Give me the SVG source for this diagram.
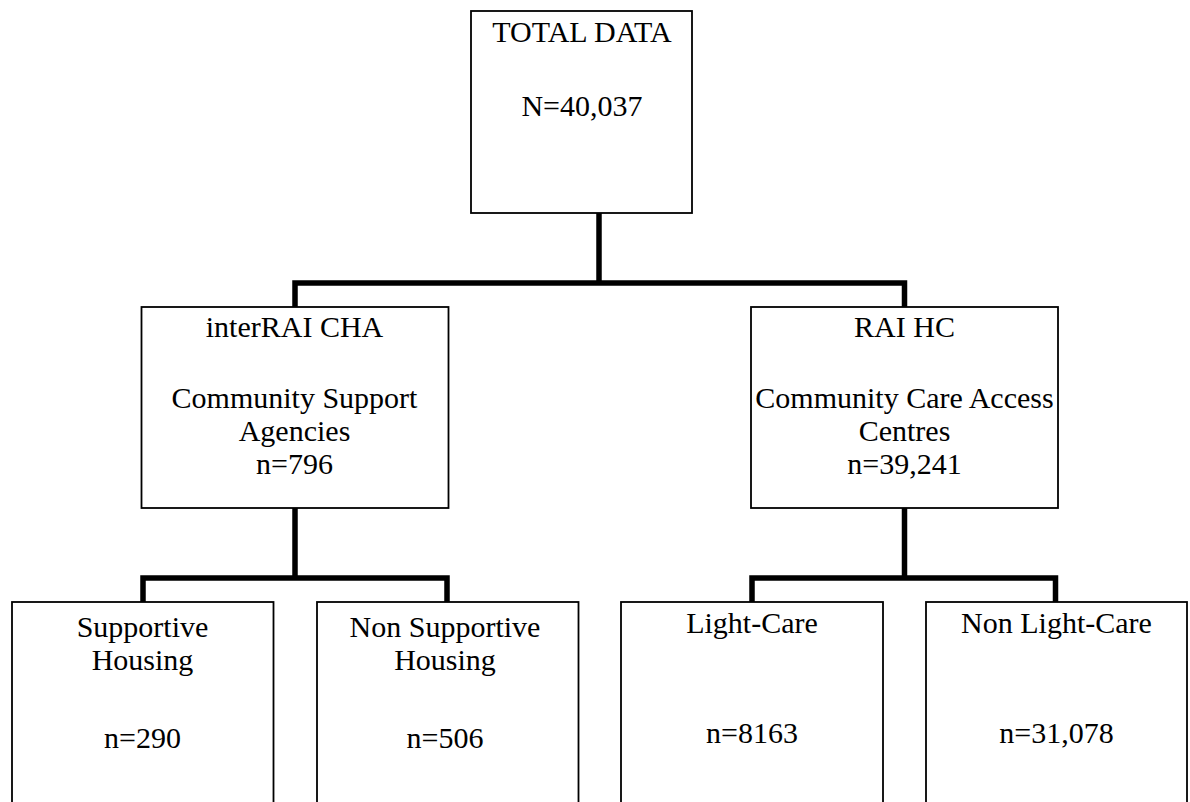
<svg xmlns="http://www.w3.org/2000/svg" width="1190" height="802" viewBox="0 0 1190 802">
<style>
.box{fill:#fff;stroke:#000;stroke-width:1.8}
.conn{fill:none;stroke:#000;stroke-width:5.5;stroke-linejoin:miter;stroke-linecap:butt}
text{font-family:"Liberation Serif","Times New Roman",serif;font-size:30px;fill:#000;text-anchor:middle}
</style>
<rect width="1190" height="802" fill="#fff"/>
<g id="connectors">
<path class="conn" d="M599,213 V283"/>
<path class="conn" d="M295,307 V283 H904.5 V307"/>
<path class="conn" d="M295,508 V578"/>
<path class="conn" d="M143,602 V578 H447 V602"/>
<path class="conn" d="M904.5,508 V578"/>
<path class="conn" d="M752,602 V578 H1055.5 V602"/>
</g>
<g id="total">
<rect class="box" x="471" y="11" width="221" height="202"/>
<text x="582" y="42">TOTAL DATA</text>
<text x="582" y="116">N=40,037</text>
</g>
<g id="cha">
<rect class="box" x="141.5" y="307" width="307" height="201"/>
<text x="294.5" y="337">interRAI CHA</text>
<text x="294.5" y="408">Community Support</text>
<text x="294.5" y="441">Agencies</text>
<text x="294.5" y="474">n=796</text>
</g>
<g id="hc">
<rect class="box" x="751" y="307" width="307" height="201"/>
<text x="904.5" y="337">RAI HC</text>
<text x="904.5" y="408">Community Care Access</text>
<text x="904.5" y="441">Centres</text>
<text x="904.5" y="474">n=39,241</text>
</g>
<g id="supportive">
<rect class="box" x="12" y="602" width="261.5" height="220"/>
<text x="142.5" y="637">Supportive</text>
<text x="142.5" y="670">Housing</text>
<text x="142.5" y="748">n=290</text>
</g>
<g id="nonsupportive">
<rect class="box" x="317" y="602" width="261.5" height="220"/>
<text x="445" y="637">Non Supportive</text>
<text x="445" y="670">Housing</text>
<text x="445" y="748">n=506</text>
</g>
<g id="lightcare">
<rect class="box" x="621" y="602" width="262" height="220"/>
<text x="752" y="633">Light-Care</text>
<text x="752" y="743">n=8163</text>
</g>
<g id="nonlightcare">
<rect class="box" x="926" y="602" width="261" height="220"/>
<text x="1056.5" y="633">Non Light-Care</text>
<text x="1056.5" y="743">n=31,078</text>
</g>
</svg>
